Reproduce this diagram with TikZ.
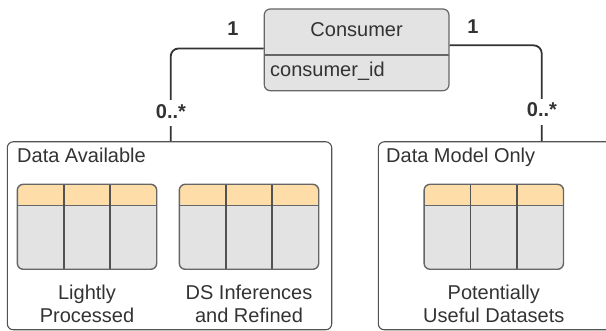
\documentclass[tikz,border=0pt]{standalone}
\usepackage{fontspec}
\setmainfont{Liberation Sans}
\usepackage{tikz}
\usetikzlibrary{positioning,calc}

\definecolor{hdrorange}{HTML}{FFDDA8}
\definecolor{bodygray}{HTML}{E3E3E3}
\definecolor{edgegray}{HTML}{666666}
\definecolor{inkgray}{HTML}{333333}

\begin{document}
\begin{tikzpicture}[x=1pt,y=-1pt,
    every node/.style={text=inkgray,font=\fontsize{20}{23}\selectfont},
    conn/.style={draw=inkgray,line width=1.8pt,rounded corners=8pt},
    mult/.style={font=\fontsize{20}{23}\selectfont\bfseries,fill=white,inner xsep=1pt,inner ysep=4pt,text depth=4pt},
    group/.style={draw=inkgray!85,line width=1.1pt,rounded corners=6pt,minimum width=#1,minimum height=188pt,inner sep=0pt},
    dbtable/.style={draw=edgegray,line width=1.4pt,fill=bodygray,rounded corners=6pt,
        minimum width=139.4pt,minimum height=85pt,inner sep=0pt,
        path picture={
            \fill[hdrorange] (path picture bounding box.north west) rectangle ([yshift=-21.4pt]path picture bounding box.north east);
            \draw[edgegray,line width=1.4pt] ([yshift=-21.4pt]path picture bounding box.north west) -- ([yshift=-21.4pt]path picture bounding box.north east);
            \draw[edgegray!80!black,line width=1.8pt] ($(path picture bounding box.north west)!1/3!(path picture bounding box.north east)$) -- ($(path picture bounding box.south west)!1/3!(path picture bounding box.south east)$);
            \draw[edgegray!80!black,line width=1.8pt] ($(path picture bounding box.north west)!2/3!(path picture bounding box.north east)$) -- ($(path picture bounding box.south west)!2/3!(path picture bounding box.south east)$);
        }},
    caption/.style={align=center,inner sep=0pt}]
    \useasboundingbox (0,0) rectangle (606,331);

    % consumer entity
    \node[draw=edgegray,line width=1.2pt,fill=bodygray,rounded corners=6pt,minimum width=184.7pt,minimum height=81.7pt,inner sep=0pt] (consumer) at (356.6,49.85) {};
    \draw[edgegray,line width=1.1pt] (264.3,55) -- (449,55);
    \node[anchor=base] (cname) at (356.6,36.5) {Consumer};
    \node[anchor=base west,inner sep=0pt] (cid) at (270,76.5) {consumer\_id};

    % the two groups
    \node[group=324.4pt] (avail) at (169.5,235.8) {};
    \node[anchor=base west,inner sep=0pt] (availtitle) at (17,163) {Data Available};
    \node[group=236pt] (model) at (496.3,235.8) {};
    \node[anchor=base west,inner sep=0pt] (modeltitle) at (386,163) {Data Model Only};

    % tables
    \node[dbtable] (light) at (87,226.8) {};
    \node[dbtable] (infer) at (249,226.8) {};
    \node[dbtable] (useful) at (493.8,226.8) {};
    \node[caption,below=14.5pt of light] (lightcap) {Lightly\\Processed};
    \node[caption,below=14.5pt of infer] (infercap) {DS Inferences\\and Refined};
    \node[caption,below=14.5pt of useful] (usefulcap) {Potentially\\Useful Datasets};

    % connectors
    \draw[conn] ([yshift=1.4pt]consumer.west) -| ([xshift=1.2pt]avail.north);
    \draw[conn] ([yshift=4.5pt]consumer.east) -| ([xshift=45.4pt]model.north);
    \node[mult,anchor=base] (availone) at (233,36) {1};
    \node[mult,anchor=base] (availmany) at (171,118.3) {0..*};
    \node[mult,anchor=base] (modelone) at (473,33.3) {1};
    \node[mult,anchor=base] (modelmany) at (542,116.7) {0..*};
\end{tikzpicture}
\end{document}
